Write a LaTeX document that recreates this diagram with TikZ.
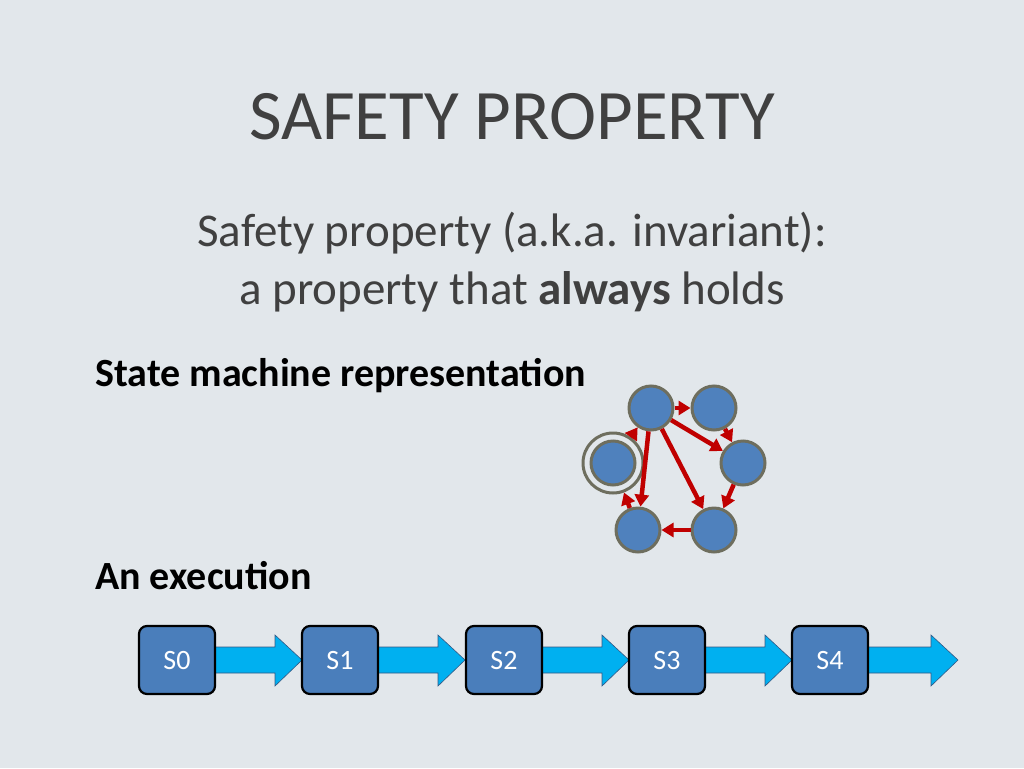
\documentclass[tikz,border=0pt]{standalone}
\usepackage{fontspec}
\setmainfont{Carlito}
\usetikzlibrary{arrows.meta}
\definecolor{bg}{HTML}{E2E7EB}
\definecolor{nodeb}{HTML}{4F81BD}
\definecolor{ring}{HTML}{6E6E5E}
\definecolor{arr}{HTML}{C00000}
\definecolor{sbox}{HTML}{4A7EBB}
\definecolor{cyanar}{HTML}{00B0F0}
\definecolor{txt}{HTML}{404040}
\begin{document}
\begin{tikzpicture}[x=1pt,y=-1pt,
  st/.style={circle,fill=nodeb,draw=ring,line width=3pt,minimum size=44pt,inner sep=0pt},
  ed/.style={draw=arr,line width=4.5pt,-{Triangle[length=12pt,width=14pt]},shorten >=0pt},
  sbx/.style={rectangle,rounded corners=8pt,fill=sbox,draw=black,line width=2.2pt,minimum width=76pt,minimum height=68pt,font=\fontsize{28}{32}\selectfont,text=white},
  carr/.style={fill=cyanar,draw=sbox!80!black,line width=0.6pt}]
\fill[bg] (0,0) rectangle (1024,768);
\useasboundingbox (0,0) rectangle (1024,768);
\node[text=txt,font=\fontsize{71}{74}\selectfont] (title) at (512,117) {SAFETY PROPERTY};
\node[text=txt,font=\fontsize{47}{58}\selectfont,align=center] (sub) at (512,262) {Safety property (a.k.a. invariant):\\a property that \textbf{always} holds};
\node[anchor=west,font=\bfseries\fontsize{40}{42}\selectfont,text=black,inner sep=0pt] (smr) at (95,376) {State machine representation};
\node[anchor=west,font=\bfseries\fontsize{40}{42}\selectfont,text=black,inner sep=0pt] (exe) at (95,576) {An execution};
% state machine
\node[st] (A) at (651,408) {};
\node[st] (B) at (714,408) {};
\node[st] (C) at (743,463) {};
\node[st] (D) at (714,530) {};
\node[st] (E) at (638,530) {};
\node[st] (F) at (613,463) {};
\node[circle,draw=ring,line width=3pt,minimum size=60pt,inner sep=0pt] (Fr) at (F) {};
\draw[ed] (A) -- (B);
\draw[ed] (B) -- (C);
\draw[ed] (A) -- (C);
\draw[ed] (A) -- (E);
\draw[ed] (A) -- (D);
\draw[ed] (C) -- (D);
\draw[ed] (D) -- (E);
\draw[ed] (E) -- (Fr);
\draw[ed] (Fr) -- (A);
% execution
\foreach \i/\x in {0/177,1/340,2/504,3/667,4/830}{
  \pgfmathsetmacro{\xs}{\x+38}
  \pgfmathsetmacro{\xt}{\x+125+(\i==4)*3}
  \pgfmathsetmacro{\xh}{\xt-27}
  \fill[cyanar] (\xs,647) -- (\xh,647) -- (\xh,635) -- (\xt,660) -- (\xh,686) -- (\xh,673) -- (\xs,673) -- cycle;
  \draw[sbox!70!black,line width=0.6pt] (\xs,647) -- (\xh,647) -- (\xh,635) -- (\xt,660) -- (\xh,686) -- (\xh,673) -- (\xs,673);
  \node[sbx] (s\i) at (\x,660) {S\i};
}
\end{tikzpicture}
\end{document}
